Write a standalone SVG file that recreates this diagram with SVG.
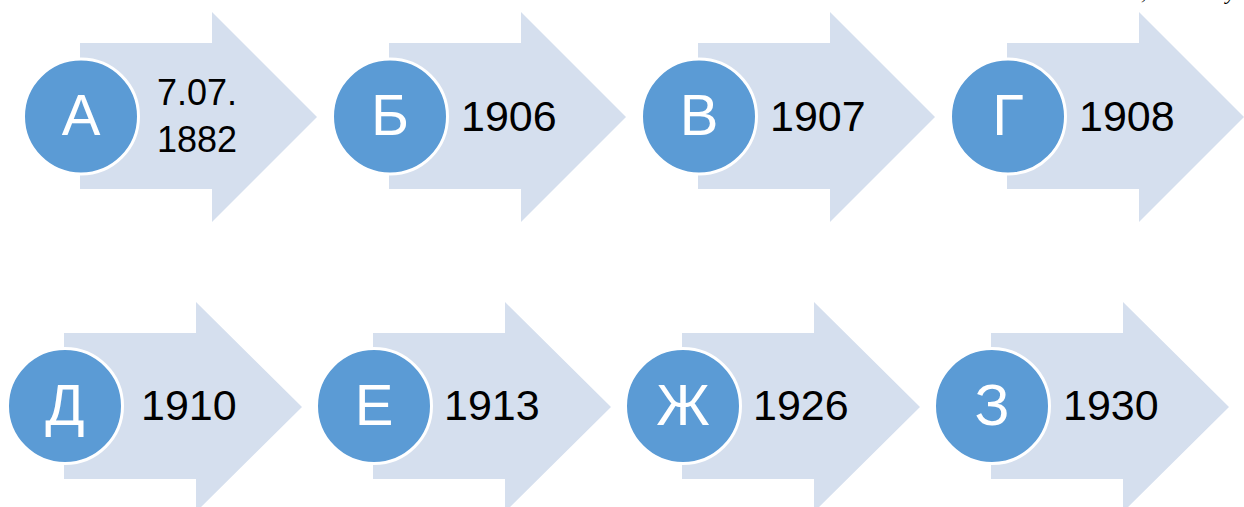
<svg xmlns="http://www.w3.org/2000/svg" width="1244" height="507" viewBox="0 0 1244 507">
<style>
.arrow{fill:#D5DFEE;}
.circ{fill:#5B9BD5;stroke:#FFFFFF;stroke-width:3;}
.letter{font-family:"Liberation Sans",Arial,sans-serif;font-size:58px;fill:#FFFFFF;text-anchor:middle;}
.year{font-family:"Liberation Sans",Arial,sans-serif;font-size:43px;fill:#000000;}
.small{font-family:"Liberation Sans",Arial,sans-serif;font-size:36px;fill:#000000;}
.frag{font-family:"Liberation Serif","Times New Roman",serif;font-style:italic;font-size:22px;fill:#000000;}
</style>
<rect width="1244" height="507" fill="#FFFFFF"/>
<g id="fragment">
<text class="frag" x="1141" y="-1">,</text>
<text class="frag" x="1226" y="-1">у</text>
</g>
<g id="connectors"></g>
<g id="node-A">
<path class="arrow" d="M80,43 H212 V12 L317,117 L212,222 V189 H80 Z"/>
<circle class="circ" cx="81" cy="116.5" r="57.5"/>
<text class="letter" x="81" y="135">А</text>
<text class="small" x="157" y="105">7.07.</text>
<text class="small" x="157" y="152">1882</text>
</g>
<g id="node-B">
<path class="arrow" d="M389,43 H521 V12 L626,117 L521,222 V189 H389 Z"/>
<circle class="circ" cx="390" cy="116.5" r="57.5"/>
<text class="letter" x="390" y="135">Б</text>
<text class="year" x="461" y="131">1906</text>
</g>
<g id="node-V">
<path class="arrow" d="M698,43 H830 V12 L935,117 L830,222 V189 H698 Z"/>
<circle class="circ" cx="699" cy="116.5" r="57.5"/>
<text class="letter" x="699" y="135">В</text>
<text class="year" x="770" y="131">1907</text>
</g>
<g id="node-G">
<path class="arrow" d="M1007,43 H1139 V12 L1244,117 L1139,222 V189 H1007 Z"/>
<circle class="circ" cx="1008" cy="116.5" r="57.5"/>
<text class="letter" x="1008" y="135">Г</text>
<text class="year" x="1079" y="131">1908</text>
</g>
<g id="node-D">
<path class="arrow" d="M64,333 H196 V302 L302,407 L196,512 V479 H64 Z"/>
<circle class="circ" cx="65" cy="406" r="57.5"/>
<text class="letter" x="65" y="425">Д</text>
<text class="year" x="141" y="420">1910</text>
</g>
<g id="node-E">
<path class="arrow" d="M373,333 H505 V302 L611,407 L505,512 V479 H373 Z"/>
<circle class="circ" cx="374" cy="406" r="57.5"/>
<text class="letter" x="374" y="425">Е</text>
<text class="year" x="444" y="420">1913</text>
</g>
<g id="node-Zh">
<path class="arrow" d="M682,333 H814 V302 L920,407 L814,512 V479 H682 Z"/>
<circle class="circ" cx="683" cy="406" r="57.5"/>
<text class="letter" x="683" y="425">Ж</text>
<text class="year" x="753" y="420">1926</text>
</g>
<g id="node-Z">
<path class="arrow" d="M991,333 H1123 V302 L1229,407 L1123,512 V479 H991 Z"/>
<circle class="circ" cx="992" cy="406" r="57.5"/>
<text class="letter" x="992" y="425">З</text>
<text class="year" x="1063" y="420">1930</text>
</g>
</svg>
